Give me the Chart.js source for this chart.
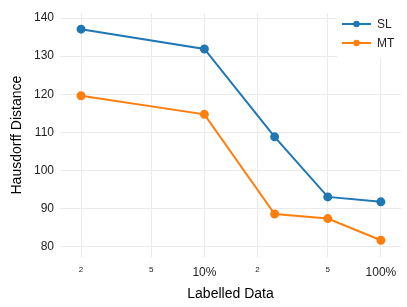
<!DOCTYPE html>
<html>
<head>
<meta charset="utf-8">
<style>
  body { margin: 0; background: #fff; }
  #wrap { width: 407px; height: 307px; }
</style>
<script src="https://cdn.jsdelivr.net/npm/chart.js@4/dist/chart.umd.min.js"></script>
</head>
<body>
<div id="wrap"><canvas id="chart" width="407" height="307"></canvas></div>
<script>
// data
const labelled = [2, 10, 25, 50, 100];
const slValues = [137.1, 131.9, 108.8, 93.0, 91.7];
const mtValues = [119.6, 114.7, 88.5, 87.3, 81.6];
const xTicks = [2, 5, 10, 20, 50, 100];
const yTicks = [80, 90, 100, 110, 120, 130, 140];

const FONT = "'Liberation Sans', Arial, sans-serif";
const GRID = '#ebebeb';

function toPoints(values) {
  return values.map((v, i) => ({ x: labelled[i], y: v }));
}

function isDecade(v) {
  return v === 10 || v === 100;
}

// legend sits inside the plot, on a white box over the grid
const insideLegend = {
  id: 'insideLegend',
  beforeDatasetsDraw(chart) {
    const c = chart.ctx;
    c.save();
    c.fillStyle = '#fff';
    c.fillRect(337, 0, 70, 58);
    c.restore();
  },
  afterDatasetsDraw(chart) {
    const c = chart.ctx;
    c.save();
    chart.data.datasets.forEach((ds, i) => {
      const y = 24 + i * 19;
      c.strokeStyle = ds.borderColor;
      c.lineWidth = 2;
      c.beginPath();
      c.moveTo(342, y);
      c.lineTo(371, y);
      c.stroke();
      c.fillStyle = ds.borderColor;
      c.beginPath();
      c.arc(356.5, y, 3.2, 0, Math.PI * 2);
      c.fill();
      c.fillStyle = '#222';
      c.font = '12px ' + FONT;
      c.textBaseline = 'middle';
      c.fillText(ds.label, 377, y + 0.5);
    });
    c.restore();
  }
};

const ctx = document.getElementById('chart').getContext('2d');
const chart = new Chart(ctx, {
  type: 'line',
  data: {
    datasets: [
      {
        label: 'SL',
        data: toPoints(slValues),
        borderColor: '#1f77b4',
        backgroundColor: '#1f77b4',
        borderWidth: 2,
        pointRadius: 3.5,
        pointHoverRadius: 3.5
      },
      {
        label: 'MT',
        data: toPoints(mtValues),
        borderColor: '#ff7f0e',
        backgroundColor: '#ff7f0e',
        borderWidth: 2,
        pointRadius: 3.5,
        pointHoverRadius: 3.5
      }
    ]
  },
  options: {
    responsive: false,
    animation: false,
    layout: { padding: { top: 10, right: 6, left: 0, bottom: 0 } },
    plugins: {
      legend: { display: false },
      tooltip: { enabled: false }
    },
    scales: {
      x: {
        type: 'logarithmic',
        min: 1.52,
        max: 130,
        border: { display: false },
        grid: { color: GRID, lineWidth: 1, drawTicks: false },
        afterBuildTicks: scale => {
          scale.ticks = xTicks.map(v => ({ value: v }));
        },
        afterFit: scale => { scale.height = 50; },
        ticks: {
          autoSkip: false,
          maxRotation: 0,
          padding: 8,
          color: '#222',
          font: c => {
            const v = c.tick ? c.tick.value : 10;
            return isDecade(v) ? { family: FONT, size: 12 } : { family: FONT, size: 8 };
          },
          // minor ticks only show their leading digit
          callback: v => isDecade(v) ? v + '%' : String(v).charAt(0)
        },
        title: {
          display: true,
          text: 'Labelled Data',
          color: '#000',
          font: { family: FONT, size: 14 },
          padding: { top: 0, bottom: 4 }
        }
      },
      y: {
        min: 77.2,
        max: 141.3,
        border: { display: false },
        grid: { color: GRID, lineWidth: 1, drawTicks: false },
        afterBuildTicks: scale => {
          scale.ticks = yTicks.map(v => ({ value: v }));
        },
        afterFit: scale => { scale.width = 60; },
        ticks: {
          padding: 6,
          color: '#222',
          font: { family: FONT, size: 12 }
        },
        title: {
          display: true,
          text: 'Hausdorff Distance',
          color: '#000',
          font: { family: FONT, size: 14 },
          padding: { top: 9, bottom: 0 }
        }
      }
    }
  },
  plugins: [insideLegend]
});
</script>
</body>
</html>
